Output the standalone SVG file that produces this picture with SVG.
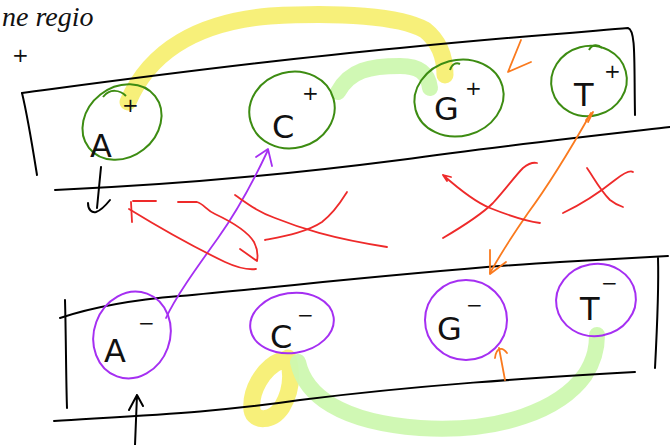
<svg xmlns="http://www.w3.org/2000/svg" width="670" height="445" viewBox="0 0 670 445">
  <style>
    .ink{fill:none;stroke:#000;stroke-width:2;stroke-linecap:round;stroke-linejoin:round}
    .pos{fill:none;stroke:#3d8c12;stroke-width:2}
    .neg{fill:none;stroke:#a52ff2;stroke-width:2}
    .hly{fill:none;stroke:#f6ee6c;stroke-width:17;stroke-linecap:round;opacity:.9}
    .hlg{fill:none;stroke:#cdf8b0;stroke-width:16;stroke-linecap:round;opacity:.95}
    .red{fill:none;stroke:#ee2a2a;stroke-width:1.8;stroke-linecap:round;stroke-linejoin:round}
    .org{fill:none;stroke:#fa7a1e;stroke-width:1.8;stroke-linecap:round;stroke-linejoin:round}
    .pur{fill:none;stroke:#a52ff2;stroke-width:1.8;stroke-linecap:round;stroke-linejoin:round}
    .lbl{font-family:"DejaVu Sans","Liberation Sans",sans-serif;font-size:32px;fill:#111}
    .sup{font-family:"DejaVu Sans","Liberation Sans",sans-serif;font-size:20px;fill:#111}
    .note{font-family:"Liberation Serif",serif;font-style:italic;font-size:28px;fill:#111}
  </style>

  <!-- heading scribble -->
  <text class="note" x="2" y="26">ne regio</text>
  <text class="sup" x="12" y="62">+</text>

  <!-- highlighter strokes -->
  <g id="highlights">
    <path class="hly" d="M128 102 C150 50 200 22 270 16 C340 12 400 16 425 30 C440 42 445 58 445 75"/>
    <path class="hlg" d="M338 92 C350 70 370 66 400 66 C418 66 428 72 430 88"/>
    <path class="hly" d="M282 360 C262 368 250 392 252 410 C254 422 272 422 282 407 C292 390 292 372 288 358"/>
    <path class="hlg" d="M298 362 C305 395 340 422 420 428 C500 433 560 410 585 375 C596 358 597 345 597 335"/>
  </g>

  <!-- strands -->
  <g id="strand-top">
    <path class="ink" d="M22 93 C120 80 250 62 400 48 C500 38 580 32 628 28 C636 30 634 60 635 115"/>
    <path class="ink" d="M22 93 C28 118 33 150 37 175"/>
    <path class="ink" d="M55 190 C150 186 260 178 400 160 C500 146 600 135 670 127"/>
  </g>
  <g id="strand-bottom">
    <path class="ink" d="M60 318 C90 308 130 300 180 296 C300 285 450 268 560 262 C610 259 645 257 668 256"/>
    <path class="ink" d="M65 300 C66 335 66 380 67 408"/>
    <path class="ink" d="M658 258 C659 290 657 330 655 368"/>
    <path class="ink" d="M54 421 C150 415 220 412 300 400 C420 385 530 378 635 372"/>
  </g>

  <!-- top nodes -->
  <g id="node-a-plus">
    <ellipse class="pos" cx="122" cy="122" rx="42" ry="35" transform="rotate(-38 122 122)"/>
    <path class="pos" d="M103 97 C110 88 120 90 126 96"/>
    <text class="lbl" x="90" y="157">A</text>
    <text class="sup" x="122" y="112">+</text>
  </g>
  <g id="node-c-plus">
    <ellipse class="pos" cx="292" cy="110" rx="43" ry="38" transform="rotate(-15 292 110)"/>
    <text class="lbl" x="272" y="138">C</text>
    <text class="sup" x="302" y="100">+</text>
  </g>
  <g id="node-g-plus">
    <ellipse class="pos" cx="459" cy="98" rx="45" ry="38" transform="rotate(-15 459 98)"/>
    <path class="pos" d="M450 70 C452 64 456 62 460 64"/>
    <text class="lbl" x="434" y="120">G</text>
    <text class="sup" x="465" y="95">+</text>
  </g>
  <g id="node-t-plus">
    <ellipse class="pos" cx="589" cy="81" rx="38" ry="35" transform="rotate(-15 589 81)"/>
    <path class="pos" d="M589 50 C592 44 598 44 602 48"/>
    <text class="lbl" x="574" y="106">T</text>
    <text class="sup" x="604" y="78">+</text>
  </g>

  <!-- bottom nodes -->
  <g id="node-a-minus">
    <ellipse class="neg" cx="132" cy="335" rx="38" ry="44" transform="rotate(20 132 335)"/>
    <text class="lbl" x="104" y="362">A</text>
    <text class="sup" x="138" y="330">−</text>
  </g>
  <g id="node-c-minus">
    <ellipse class="neg" cx="292" cy="323" rx="42" ry="30" transform="rotate(-8 292 323)"/>
    <text class="lbl" x="270" y="348">C</text>
    <text class="sup" x="297" y="322">−</text>
  </g>
  <g id="node-g-minus">
    <ellipse class="neg" cx="466" cy="320" rx="41" ry="40"/>
    <text class="lbl" x="437" y="340">G</text>
    <text class="sup" x="466" y="312">−</text>
  </g>
  <g id="node-t-minus">
    <ellipse class="neg" cx="596" cy="300" rx="40" ry="36" transform="rotate(-10 596 300)"/>
    <text class="lbl" x="580" y="320">T</text>
    <text class="sup" x="601" y="290">−</text>
  </g>

  <!-- connectors and strokes between strands -->
  <g id="connectors">
    <!-- A- to C+ -->
    <path class="pur" d="M166 318 C175 298 195 270 218 238 C238 210 254 180 268 150"/>
    <path class="pur" d="M256 157 L268 149 L272 166"/>
    <!-- T+ to G- -->
    <path class="org" d="M591 113 C570 150 545 190 528 213 C512 236 500 255 490 273"/>
    <path class="org" d="M586 120 L593 112 L588 122"/>
    <path class="org" d="M490 250 L490 274 L506 262"/>
    <!-- small orange arrows -->
    <path class="org" d="M521 40 L508 72 L531 62"/>
    <path class="org" d="M505 380 L499 348"/>
    <path class="org" d="M495 358 C496 348 502 346 507 353"/>
    <!-- black end arrows -->
    <path class="ink" d="M101 167 L97 208"/>
    <path class="ink" d="M88 203 C88 210 92 213 96 212 C102 210 106 205 110 200"/>
    <path class="ink" d="M135 445 L137 395 L129 410 M137 395 L143 406"/>
    <!-- red strokes -->
    <path class="red" d="M133 201 L156 201 M131 202 L132 222"/>
    <path class="red" d="M129 209 C160 228 200 250 225 262 C238 268 248 270 256 269"/>
    <path class="red" d="M178 202 L197 202 C204 204 206 210 215 214 C232 222 248 232 254 242 C258 250 258 256 257 261 M240 249 L257 261"/>
    <path class="red" d="M265 240 C285 236 307 232 322 222 C335 212 342 200 347 192"/>
    <path class="red" d="M235 195 C248 204 258 212 275 218 C300 228 330 238 387 247"/>
    <path class="red" d="M443 175 C460 190 475 202 490 208 C510 216 525 221 540 223 M443 175 L451 177 M443 175 L447 181"/>
    <path class="red" d="M443 238 C460 228 480 216 493 203 C505 190 515 176 523 168 C528 164 533 162 537 163"/>
    <path class="red" d="M563 213 C580 205 600 192 615 180 C624 173 630 170 633 172"/>
    <path class="red" d="M587 168 C594 178 600 190 610 200 C615 204 620 206 623 207"/>
  </g>
</svg>
